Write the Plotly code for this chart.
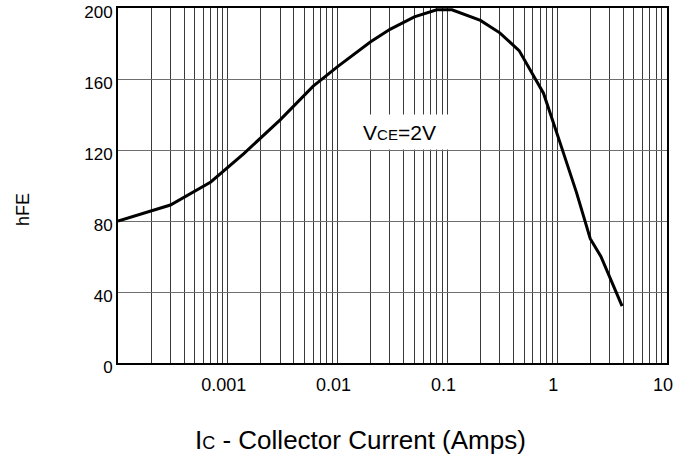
import numpy as np
import plotly.graph_objects as go

# Data
ic_amps = [1e-4, 3e-4, 7e-4, 1.4e-3, 3e-3, 6e-3, 0.01, 0.02, 0.03, 0.05, 0.08,
           0.11, 0.2, 0.3, 0.45, 0.75, 1.05, 1.5, 2.0, 2.5, 3.9]
hfe = [80, 89, 102, 118, 137, 156, 167, 181, 188, 195, 199,
       199, 193, 186, 176, 152, 125, 96, 70, 60, 32]

y_ticks = [0, 40, 80, 120, 160, 200]
x_decades = [1e-4, 1e-3, 1e-2, 1e-1, 1, 10]
x_decade_labels = ["", "0.001", "0.01", "0.1", "1", "10"]

label_x, label_y = 0.037, 130

# log grid tick values (all 1..9 multiples)
grid_vals, grid_text = [], []
for d, lab in zip(x_decades, x_decade_labels):
    for k in range(1, 10):
        v = d * k
        if v > 10 + 1e-9:
            break
        grid_vals.append(v)
        grid_text.append(lab if k == 1 else "")

fig = go.Figure()
fig.add_trace(go.Scatter(x=ic_amps, y=hfe, mode="lines",
                         line=dict(color="black", width=3), showlegend=False))

font_family = "Liberation Sans, Arial, sans-serif"
L, R, T, B = 118, 24, 8, 97
W, H = 691, 460
fig.update_layout(
    width=W, height=H,
    margin=dict(l=L, r=R, t=T, b=B, autoexpand=False),
    paper_bgcolor="white", plot_bgcolor="white",
    font=dict(family=font_family, size=18, color="black"),
    xaxis=dict(type="log", range=[-4, 1], tickmode="array",
               tickvals=grid_vals, ticktext=grid_text,
               showgrid=True, gridcolor="#3a3a3a", gridwidth=1,
               showline=True, linecolor="black", linewidth=2, mirror=True,
               ticks="", ticklabelstandoff=4, ticklabelshift=-4,
               zeroline=False, automargin=False, ticklabeloverflow="allow"),
    yaxis=dict(range=[0, 200], tickmode="array", tickvals=y_ticks,
               showgrid=True, gridcolor="#6e6e6e", gridwidth=1,
               showline=True, linecolor="black", linewidth=2, mirror=True,
               ticks="", ticklabelstandoff=0, ticklabelshift=4,
               tickfont=dict(size=17),
               zeroline=False, automargin=False, ticklabeloverflow="allow"),
)

pw, ph = W - L - R, H - T - B
fig.add_annotation(x=np.log10(label_x), y=label_y, xref="x", yref="y",
                   text='V<span style="font-size:15px">CE</span>=2V',
                   showarrow=False, bgcolor="white", width=103, height=32,
                   font=dict(size=21, family=font_family, color="black"))
fig.add_annotation(x=(360 - L) / pw, y=1 - (440 - T) / ph, xref="paper", yref="paper",
                   xanchor="center", yanchor="middle",
                   text='I<span style="font-size:18px">C</span> - Collector Current (Amps)',
                   showarrow=False, font=dict(size=26, family=font_family, color="black"))
fig.add_annotation(x=(23 - L) / pw, y=1 - (210 - T) / ph, xref="paper", yref="paper",
                   xanchor="center", yanchor="middle",
                   text='hFE', textangle=-90,
                   showarrow=False, font=dict(size=18, family=font_family, color="black"))

fig.write_html("out.html", config={"displayModeBar": False},
               post_script="document.body.style.margin='0';")
